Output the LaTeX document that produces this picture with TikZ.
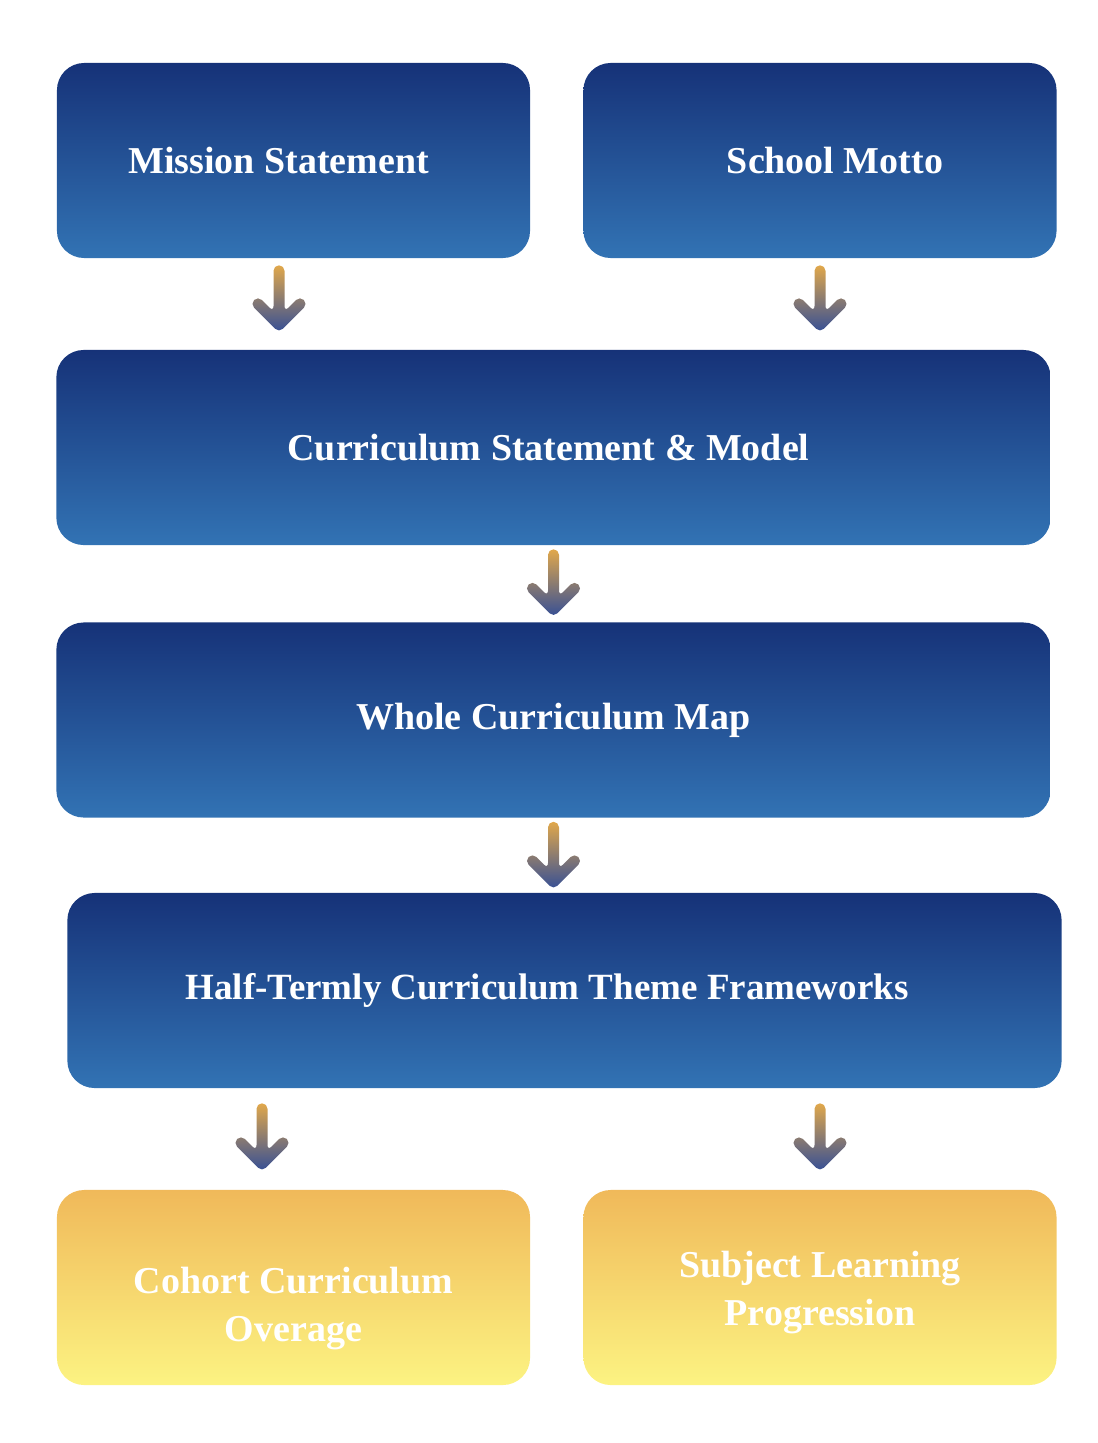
\documentclass[tikz,border=0pt]{standalone}
\usepackage{fontspec}
\setmainfont{Liberation Serif}
\usetikzlibrary{positioning,calc}

\definecolor{navytop}{RGB}{22,50,120}
\definecolor{navybot}{RGB}{50,115,180}
\definecolor{goldtop}{RGB}{240,185,90}
\definecolor{goldbot}{RGB}{252,243,130}
\definecolor{arrowtop}{RGB}{225,168,75}
\definecolor{arrowbot}{RGB}{52,78,150}

\tikzset{
  bluebox/.style={rectangle, rounded corners=0.68cm, top color=navytop, bottom color=navybot,
    text=white, align=center, font=\fontsize{27}{34}\selectfont\bfseries,
    minimum width=11.825cm, minimum height=4.875cm},
  widebox/.style={bluebox, minimum width=24.85cm},
  goldbox/.style={bluebox, top color=goldtop, bottom color=goldbot},
  flowarrow/.style={top color=arrowtop, bottom color=arrowbot, rounded corners=3.9pt,
    to path={($(\tikztostart)+(-5.5,-5.5)$) -- ($(\tikztostart)+(5.5,-5.5)$)
      -- ($(\tikztotarget)+(5.5,-13.28)$) -- ($(\tikztotarget)+(21,-28.78)$)
      -- ($(\tikztotarget)+(28.78,-21)$) -- ($(\tikztotarget)+(0,7.78)$)
      -- ($(\tikztotarget)+(-28.78,-21)$) -- ($(\tikztotarget)+(-21,-28.78)$)
      -- ($(\tikztotarget)+(-5.5,-13.28)$) -- cycle}}
}

\begin{document}
\begin{tikzpicture}[x=0.025cm, y=-0.025cm]

\useasboundingbox (0,0) rectangle (1098,1443);

% Row 1
\path
(293.5,160.5)  node[bluebox] (mission) {Mission Statement\hspace*{0.75cm}}
(820,160.5)    node[bluebox] (motto)   {\hspace*{0.75cm}School Motto}
;

% Row 2 and 3
\path
(553.5,447.5)  node[widebox] (cstate) {Curriculum Statement \& Model\hspace*{0.25cm}}
(553.5,720)    node[widebox] (cmap)   {Whole Curriculum Map}
(564.5,990.5)  node[widebox] (theme)  {\fontsize{26.3}{34}\selectfont Half-Termly Curriculum Theme Frameworks\hspace*{0.875cm}}
;

% Row 4
\path
(293.5,1287.5) node[goldbox] (cohort)  {\rule{0pt}{49pt}Cohort Curriculum\\Overage}
(820,1287.5)   node[goldbox] (subject) {\rule{0pt}{26pt}Subject Learning\\Progression}
;

% Arrows
\shade[flowarrow] ($(mission.south)+(-14.5,12.5)$) to ($(mission.south |- cstate.north)+(-14.5,-24.8)$);
\shade[flowarrow] ($(motto.south)+(0,12.5)$) to ($(motto.south |- cstate.north)+(0,-24.8)$);
\shade[flowarrow] ($(cstate.south)+(0,9.5)$) to ($(cmap.north)+(0,-12.8)$);
\shade[flowarrow] ($(cmap.south)+(0,9.5)$) to ($(cmap.south |- theme.north)+(0,-10.8)$);
\shade[flowarrow] ($(cohort.north |- theme.south)+(-31.5,20.5)$) to ($(cohort.north)+(-31.5,-25.8)$);
\shade[flowarrow] ($(subject.north |- theme.south)+(0,20.5)$) to ($(subject.north)+(0,-25.8)$);

\end{tikzpicture}
\end{document}
